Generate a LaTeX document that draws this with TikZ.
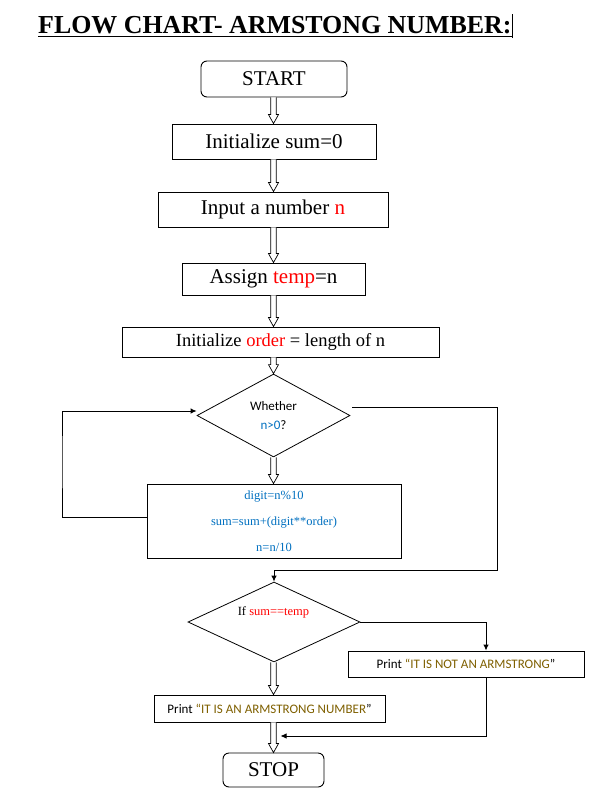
\documentclass[tikz,border=0pt]{standalone}
\usepackage{fontspec}
\setmainfont{Liberation Serif}
\newfontfamily\calfont{Carlito}
\usetikzlibrary{shapes.geometric,arrows.meta,calc}
\definecolor{myblue}{RGB}{0,112,192}
\definecolor{myolive}{RGB}{127,96,0}
\definecolor{myred}{RGB}{255,0,0}
\newcommand\hollowarr[2]{%
  \draw[hol] let \p1=(#1.south -| ax), \p2=(#2.north -| ax) in
   (\x1-2.8pt,\y1) -- (\x1-2.8pt,\y2+9pt) -- (\x1-5pt,\y2+9pt) -- (\x1,\y2)
   -- (\x1+5pt,\y2+9pt) -- (\x1+2.8pt,\y2+9pt) -- (\x1+2.8pt,\y1);}
\begin{document}
\begin{tikzpicture}[x=1pt,y=-1pt,
  box/.style={draw, line width=0.9pt, inner sep=0pt, align=center},
  bigtxt/.style={font=\fontsize{21}{25}\selectfont},
  dia/.style={draw, diamond, line width=0.8pt, inner sep=0pt, align=center},
  hol/.style={draw, line width=0.7pt, fill=white, line join=miter},
  conn/.style={draw, line width=0.9pt},
  tip/.style={-{Latex[length=6pt,width=5.5pt]}}
]
\useasboundingbox[fill=white] (0,0) rectangle (612,809);
\coordinate (ax) at (273.5,0);

% title
\node[anchor=base west, inner sep=0pt, font=\fontsize{25.9}{28}\selectfont\bfseries] (title) at (38,33) {FLOW CHART- ARMSTONG NUMBER:};
\draw[line width=1.6pt] ([yshift=-3.5pt]title.base west) -- ([yshift=-3.5pt]title.base east);
\draw[line width=0.8pt] ([xshift=1pt]title.base east) ++(0,5) -- ++(0,-24);

% nodes
\node[box, rounded corners=6pt, minimum width=146pt, minimum height=36pt, bigtxt] (start) at (274,79) {\raisebox{-1.5pt}{START}};
\node[box, minimum width=204pt, minimum height=35pt, bigtxt] (init) at (274,141.5) {\raisebox{-1pt}{Initialize sum=0}};
\node[box, minimum width=230pt, minimum height=35pt, bigtxt] (input) at (273,209.5) {\raisebox{-1.5pt}{Input a number {\color{myred}n}}};
\node[box, minimum width=183pt, minimum height=32pt, bigtxt] (assign) at (273.5,279) {\raisebox{-1.5pt}{Assign {\color{myred}temp}=n}};
\node[box, minimum width=317pt, minimum height=30pt, font=\fontsize{18.5}{22}\selectfont] (order) at (280.5,342) {\raisebox{-1pt}{Initialize {\color{myred}order} = length of n}};
\node[dia, minimum width=153pt, minimum height=83pt, font=\calfont\fontsize{13}{19}\selectfont] (d1) at (273.5,415.5) {Whether\\{\color{myblue}n>0}?};
\node[box, minimum width=254pt, minimum height=74pt, font=\fontsize{12.5}{26}\selectfont, text=myblue] (loop) at (274,521) {digit=n\%10\\sum=sum+(digit**order)\\n=n/10};
\node[dia, minimum width=172pt, minimum height=80pt] (d2) at (274,622) {};
\node[inner sep=0pt, font=\fontsize{12.5}{15}\selectfont] (d2t) at (273.5,612) {If {\color{myred}sum==temp}};
\node[box, minimum width=236pt, minimum height=26pt, font=\calfont\fontsize{13}{15}\selectfont] (notarm) at (466,664) {Print {\color{myolive}“IT IS NOT AN ARMSTRONG}”};
\node[box, minimum width=231pt, minimum height=27pt, font=\calfont\fontsize{13}{15}\selectfont] (arm) at (269.5,708.5) {Print {\color{myolive}“IT IS AN ARMSTRONG NUMBER}”};
\node[box, rounded corners=6pt, minimum width=101pt, minimum height=34pt, bigtxt] (stop) at (273.5,770) {\raisebox{-1.5pt}{STOP}};

% hollow arrows
\hollowarr{start}{init}
\hollowarr{init}{input}
\hollowarr{input}{assign}
\hollowarr{assign}{order}
\hollowarr{order}{d1}
\hollowarr{d1}{loop}
\hollowarr{d2}{arm}
\hollowarr{arm}{stop}

% connectors
\coordinate (lbx) at (62,460);
\draw[conn, tip] ([yshift=4pt]loop.west) -| (lbx) |- ([yshift=4.5pt]d1.west);
\coordinate (rx) at (497,570);
\draw[conn, tip] ([xshift=2pt,yshift=8pt]d1.east) -| (rx) -| (d2.north);
\draw[conn, tip] (d2.east) -| ([xshift=20pt]notarm.north);
\coordinate (join) at ($(arm.south -| ax)!0.45!(stop.north -| ax) + (7,0)$);
\draw[conn, tip] ([xshift=20pt]notarm.south) |- (join);
\end{tikzpicture}
\end{document}
